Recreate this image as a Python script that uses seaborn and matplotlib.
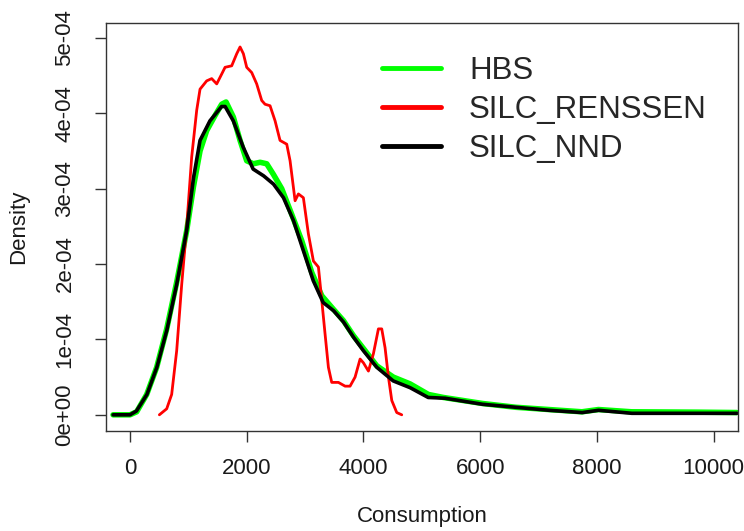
import seaborn as sns
import matplotlib.pyplot as plt
import pandas as pd

# density curves (x = consumption, y in units of 1e-4)
hbs_x = [-290, 0, 114, 286, 457, 629, 800, 971, 1086, 1200, 1314, 1457, 1571, 1646,
         1771, 1886, 2000, 2114, 2229, 2343, 2457, 2600, 2771, 2943, 3114, 3286, 3486,
         3657, 3829, 4000, 4229, 4514, 4800, 5114, 5371, 6043, 6610, 7177, 7745, 8028,
         8596, 9730, 10400]
hbs_y = [0, 0, 0.04, 0.27, 0.63, 1.14, 1.76, 2.44, 3.02, 3.50, 3.77, 3.97, 4.12, 4.15,
         3.95, 3.64, 3.37, 3.33, 3.35, 3.33, 3.19, 3.00, 2.66, 2.31, 1.89, 1.58, 1.40,
         1.25, 1.05, 0.88, 0.65, 0.50, 0.41, 0.27, 0.23, 0.15, 0.10, 0.07, 0.04, 0.07,
         0.04, 0.035, 0.03]

renssen_x = [503, 629, 714, 800, 886, 971, 1057, 1143, 1200, 1314, 1400, 1486, 1571,
             1629, 1743, 1829, 1886, 1943, 2000, 2086, 2171, 2257, 2314, 2400, 2486,
             2571, 2686, 2743, 2829, 2886, 2971, 3057, 3143, 3229, 3286, 3343, 3400,
             3457, 3571, 3686, 3771, 3857, 3943, 4000, 4086, 4171, 4257, 4314, 4371,
             4429, 4486, 4571, 4657]
renssen_y = [0, 0.08, 0.27, 0.85, 1.73, 2.49, 3.42, 4.04, 4.32, 4.43, 4.46, 4.39, 4.52,
             4.61, 4.63, 4.79, 4.88, 4.79, 4.61, 4.54, 4.39, 4.17, 4.12, 4.10, 3.90,
             3.64, 3.59, 3.37, 2.84, 2.93, 2.88, 2.40, 2.04, 1.96, 1.52, 1.07, 0.63,
             0.43, 0.43, 0.38, 0.38, 0.50, 0.74, 0.69, 0.58, 0.81, 1.14, 1.14, 0.89,
             0.50, 0.19, 0.03, 0]

nnd_x = [-290, 0, 110, 290, 460, 630, 800, 970, 1090, 1200, 1370, 1570, 1630, 1770,
         1940, 2110, 2290, 2460, 2630, 2800, 2970, 3140, 3310, 3490, 3660, 3830, 4000,
         4230, 4510, 4800, 5110, 5400, 6040, 6610, 7180, 7750, 8030, 8600, 9730, 10400]
nnd_y = [0, 0, 0.05, 0.27, 0.63, 1.12, 1.73, 2.44, 3.15, 3.64, 3.90, 4.09, 4.09, 3.90,
         3.55, 3.26, 3.17, 3.06, 2.88, 2.58, 2.18, 1.78, 1.49, 1.38, 1.23, 1.03, 0.85,
         0.63, 0.45, 0.36, 0.23, 0.22, 0.14, 0.10, 0.06, 0.03, 0.06, 0.02, 0.02, 0.02]

x_ticks = [0, 2000, 4000, 6000, 8000, 10000]
y_ticks = [0, 1e-4, 2e-4, 3e-4, 4e-4, 5e-4]
y_tick_labels = ["0e+00", "1e-04", "2e-04", "3e-04", "4e-04", "5e-04"]

series = [
    ("HBS", hbs_x, hbs_y, "#00FF00", 4.0),
    ("SILC_RENSSEN", renssen_x, renssen_y, "#FF0000", 2.0),
    ("SILC_NND", nnd_x, nnd_y, "black", 2.6),
]

sns.set_style("ticks")
plt.rcParams['font.family'] = ['Liberation Sans', 'DejaVu Sans']

fig = plt.figure(figsize=(7.44, 5.31), dpi=100)
ax = fig.add_axes([0.1425, 0.189, 0.8495, 0.768])

for name, xs, ys, col, lw in series:
    df = pd.DataFrame({"x": xs, "y": [v * 1e-4 for v in ys]})
    sns.lineplot(data=df, x="x", y="y", color=col, linewidth=lw, label=name,
                 ax=ax, sort=False, estimator=None)

ax.set_xlim(-411, 10420)
ax.set_ylim(-0.21e-4, 5.2e-4)
ax.set_xticks(x_ticks)
ax.set_xticklabels([str(t) for t in x_ticks])
ax.set_yticks(y_ticks)
ax.set_yticklabels(y_tick_labels, rotation=90, va="center")

for spine in ax.spines.values():
    spine.set_visible(True)
    spine.set_linewidth(1.0)
    spine.set_color("#333333")
ax.tick_params(axis="both", direction="out", length=8, width=1, color="#333333",
               labelsize=16, labelcolor="#1a1a1a")
ax.tick_params(axis="x", pad=12)
ax.tick_params(axis="y", pad=14)

ax.set_xlabel("Consumption", fontsize=16, color="#1a1a1a")
ax.set_ylabel("Density", fontsize=16, color="#1a1a1a")
ax.xaxis.set_label_coords(0.5, -0.185)
ax.yaxis.set_label_coords(-0.122, 0.5)

leg = ax.legend(loc="upper left", bbox_to_anchor=(0.436, 0.918), frameon=False,
                fontsize=22.5, handlelength=1.9, handletextpad=0.9,
                labelspacing=0.29, borderpad=0, borderaxespad=0)
for line in leg.get_lines():
    line.set_linewidth(3.5)

fig.savefig("out.png", dpi=100)
